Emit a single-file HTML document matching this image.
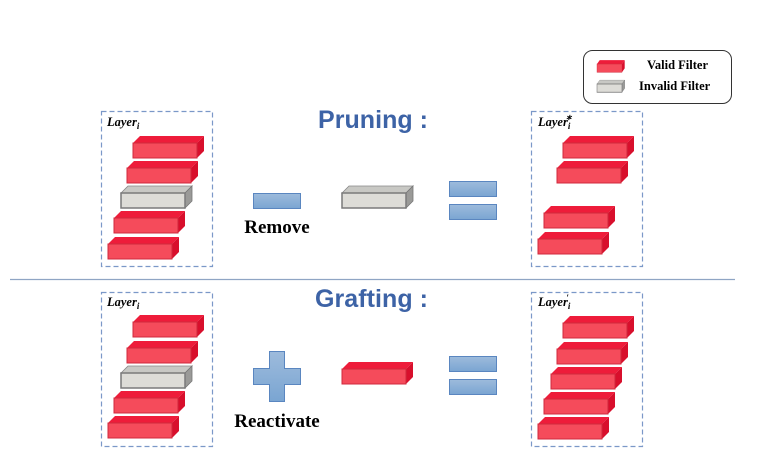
<!DOCTYPE html>
<html><head><meta charset="utf-8"><style>
html,body{margin:0;padding:0;background:#fff;}
svg{display:block}
.t{font-family:"Liberation Serif",serif;font-weight:bold;}
.h{font-family:"Liberation Sans",sans-serif;font-weight:bold;fill:#3d63a6;}
.l{font-family:"Liberation Serif",serif;font-weight:bold;font-style:italic;font-size:12.5px;}
</style></head><body>
<svg width="766" height="470" viewBox="0 0 766 470" xmlns="http://www.w3.org/2000/svg">
<defs>
<linearGradient id="bl" x1="0" y1="0" x2="0" y2="1"><stop offset="0" stop-color="#9dbbdc"/><stop offset="1" stop-color="#7aa5d2"/></linearGradient>
<g id="red">
<polygon points="0,0 7,-7 71,-7 64,0" fill="#ee1c3a"/>
<polygon points="64,0 71,-7 71,8 64,15" fill="#d80f2c"/>
<rect x="0" y="0" width="64" height="15" fill="#f54b5b" stroke="#d02a3c" stroke-width="1"/>
</g>
<g id="grey">
<polygon points="0,0 7,-7 71,-7 64,0" fill="#c8c8c4" stroke="#888" stroke-width="0.8"/>
<polygon points="64,0 71,-7 71,8 64,15" fill="#9a9a98" stroke="#777" stroke-width="0.8"/>
<rect x="0" y="0" width="64" height="15" fill="#dddcd7" stroke="#7a7a7a" stroke-width="1.5"/>
</g>
</defs>

<!-- Legend -->
<rect x="583.5" y="50.5" width="148" height="53" rx="9" fill="#fff" stroke="#333" stroke-width="1"/>
<g transform="translate(597,64) scale(0.39,0.55)"><use href="#red"/></g>
<g transform="translate(597,84) scale(0.39,0.55)"><use href="#grey"/></g>
<text class="t" x="647" y="69" font-size="12.5">Valid Filter</text>
<text class="t" x="639" y="90" font-size="12.5">Invalid Filter</text>

<!-- titles -->
<text class="h" x="318" y="128" font-size="25" textLength="110">Pruning :</text>
<text class="h" x="315" y="307" font-size="25" textLength="113">Grafting :</text>

<line x1="10" y1="279.5" x2="735" y2="279.5" stroke="#8fa5c4" stroke-width="1.3"/>

<!-- Top left box -->
<rect x="101.5" y="111.5" width="111" height="155" fill="none" stroke="#7b98c8" stroke-width="1.2" stroke-dasharray="5,3"/>
<text class="l" x="107" y="126">Layer<tspan font-size="9" dy="3">i</tspan></text>
<use href="#red" x="133" y="143"/>
<use href="#red" x="127" y="168"/>
<use href="#grey" x="121" y="193"/>
<use href="#red" x="114" y="218"/>
<use href="#red" x="108" y="244"/>

<rect x="253.5" y="193.5" width="47" height="15" fill="url(#bl)" stroke="#5a86c0" stroke-width="1"/>
<text class="t" x="277" y="233" font-size="19" text-anchor="middle">Remove</text>
<use href="#grey" x="342" y="193"/>

<rect x="449.5" y="181.5" width="47" height="15" fill="url(#bl)" stroke="#5a86c0" stroke-width="1"/>
<rect x="449.5" y="204.5" width="47" height="15" fill="url(#bl)" stroke="#5a86c0" stroke-width="1"/>

<!-- Top right -->
<rect x="531.5" y="111.5" width="111" height="155" fill="none" stroke="#7b98c8" stroke-width="1.2" stroke-dasharray="5,3"/>
<text class="l" x="538" y="126">Layer<tspan font-size="9" dy="3">i</tspan><tspan font-size="8" dx="-5" dy="-9">∗</tspan></text>
<use href="#red" x="563" y="143"/>
<use href="#red" x="557" y="168"/>
<use href="#red" x="544" y="213"/>
<use href="#red" x="538" y="239"/>

<!-- Bottom left -->
<rect x="101.5" y="292.5" width="111" height="154" fill="none" stroke="#7b98c8" stroke-width="1.2" stroke-dasharray="5,3"/>
<text class="l" x="107" y="306">Layer<tspan font-size="9" dy="3">i</tspan></text>
<use href="#red" x="133" y="322"/>
<use href="#red" x="127" y="348"/>
<use href="#grey" x="121" y="373"/>
<use href="#red" x="114" y="398"/>
<use href="#red" x="108" y="423"/>

<polygon points="269.5,351.5 284.5,351.5 284.5,368.5 300.5,368.5 300.5,384.5 284.5,384.5 284.5,401.5 269.5,401.5 269.5,384.5 253.5,384.5 253.5,368.5 269.5,368.5" fill="url(#bl)" stroke="#5a86c0" stroke-width="1"/>
<text class="t" x="277" y="427" font-size="19" text-anchor="middle">Reactivate</text>
<use href="#red" x="342" y="369"/>

<rect x="449.5" y="356.5" width="47" height="15" fill="url(#bl)" stroke="#5a86c0" stroke-width="1"/>
<rect x="449.5" y="379.5" width="47" height="15" fill="url(#bl)" stroke="#5a86c0" stroke-width="1"/>

<!-- Bottom right -->
<rect x="531.5" y="292.5" width="111" height="154" fill="none" stroke="#7b98c8" stroke-width="1.2" stroke-dasharray="5,3"/>
<text class="l" x="538" y="306">Layer<tspan font-size="9" dy="3">i</tspan><tspan font-size="9" dx="-4" dy="-8">′</tspan></text>
<use href="#red" x="563" y="323"/>
<use href="#red" x="557" y="349"/>
<use href="#red" x="551" y="374"/>
<use href="#red" x="544" y="399"/>
<use href="#red" x="538" y="424"/>
</svg>
</body></html>
